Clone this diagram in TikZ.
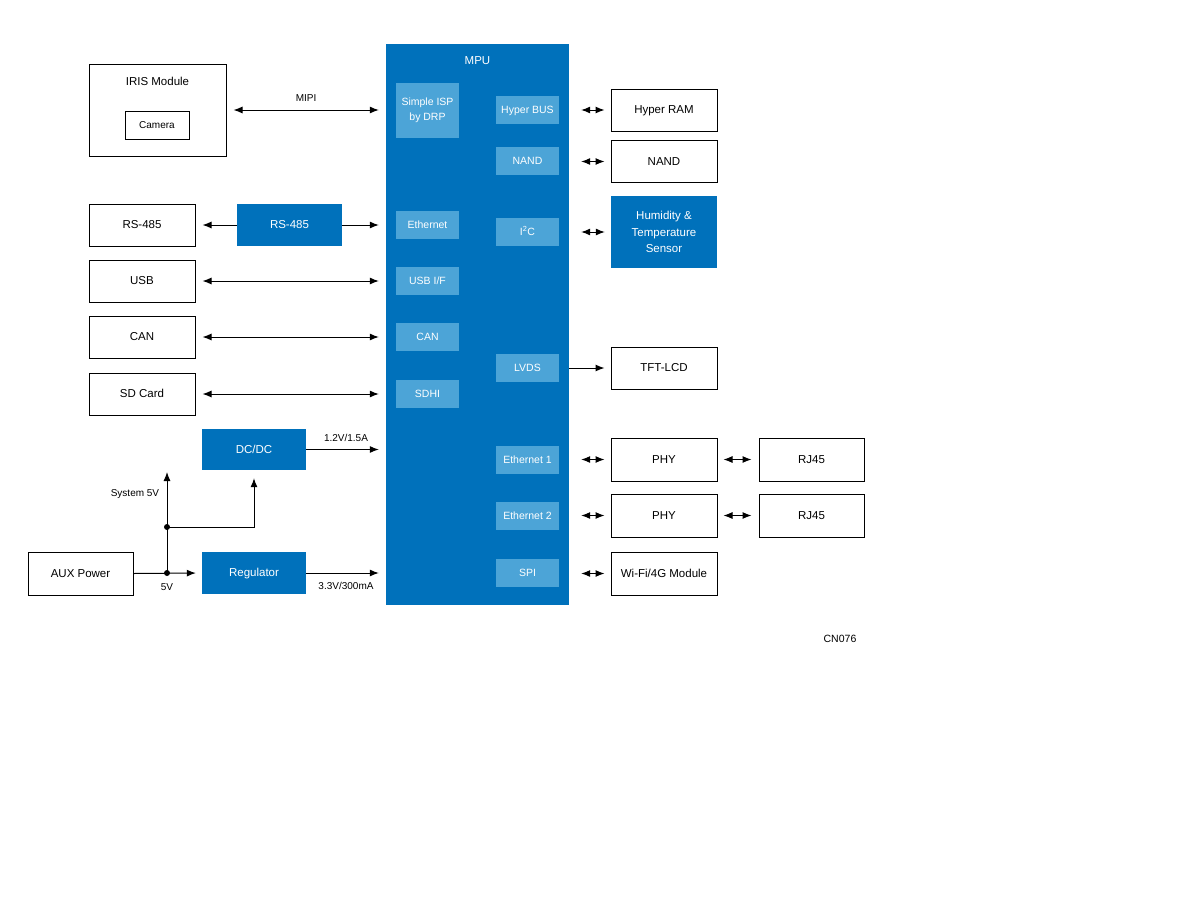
\documentclass[tikz,border=0pt]{standalone}
\usepackage{fontspec}
\setmainfont{Liberation Sans}
\usetikzlibrary{arrows.meta,calc}
\definecolor{mpublue}{RGB}{0,113,187}
\definecolor{litblue}{RGB}{76,164,215}
\begin{document}
\begin{tikzpicture}[x=1pt,y=-1pt,
  ctr/.style={text height=0.72em, text depth=0pt},
  noctr/.style={text height={}, text depth={}},
  box/.style={draw=black, line width=1pt, fill=white, inner sep=0pt, ctr,
    minimum width=106pt, minimum height=42pt, font=\fontsize{11.5}{13.5}\selectfont},
  bluebox/.style={fill=mpublue, text=white, inner sep=0pt, align=center, ctr,
    minimum width=105pt, minimum height=42pt, font=\fontsize{11.5}{16.5}\selectfont},
  inner/.style={fill=litblue, text=white, inner sep=0pt, align=center, ctr,
    minimum width=63pt, minimum height=28pt, font=\fontsize{10.5}{15}\selectfont},
  lbl/.style={font=\fontsize{10}{12}\selectfont, inner sep=0pt},
  conn/.style={line width=1pt, draw=black},
  dbl/.style={conn, {Latex[length=9pt,width=7pt]}-{Latex[length=9pt,width=7pt]}},
  one/.style={conn, -{Latex[length=9pt,width=7pt]}},
  dot/.style={circle, fill=black, inner sep=0pt, minimum size=6pt}
]
\useasboundingbox (0,0) rectangle (1200,900);

% MPU
\node[fill=mpublue, minimum width=183pt, minimum height=561pt, inner sep=0pt] (mpu) at (477.5,324.5) {};
\node[text=white, font=\fontsize{11.5}{13}\selectfont, inner sep=0pt, ctr] (mpulbl) at (477.5,61) {MPU};
\node[inner, noctr, minimum height=55pt] (isp) at (427.5,110.5) {Simple ISP\\by DRP};
\node[inner] (eth) at (427.5,225) {Ethernet};
\node[inner] (usbif) at (427.5,281) {USB I/F};
\node[inner] (canif) at (427.5,337) {CAN};
\node[inner] (sdhi) at (427.5,394) {SDHI};
\node[inner] (hbus) at (527.5,110) {Hyper BUS};
\node[inner] (nandif) at (527.5,161) {NAND};
\node[inner] (i2c) at (527.5,232) {I\textsuperscript{2}C};
\node[inner] (lvds) at (527.5,368) {LVDS};
\node[inner] (e1) at (527.5,459.5) {Ethernet 1};
\node[inner] (e2) at (527.5,516) {Ethernet 2};
\node[inner] (spi) at (527.5,573) {SPI};

% Right boxes
\node[box] (hram) at (664,110) {Hyper RAM};
\node[box] (nand) at (664,161.5) {NAND};
\node[bluebox, noctr, minimum width=106pt, minimum height=72pt] (hum) at (664,232) {Humidity \&\\Temperature\\Sensor};
\node[box] (tft) at (664,368) {TFT-LCD};
\node[box, minimum height=43pt] (phy1) at (664,459.5) {PHY};
\node[box, minimum height=43pt] (phy2) at (664,515.5) {PHY};
\node[box, minimum height=43pt] (wifi) at (664,573.5) {Wi-Fi/4G Module};
\node[box, minimum width=105pt, minimum height=43pt] (rj1) at (811.5,459.5) {RJ45};
\node[box, minimum width=105pt, minimum height=43pt] (rj2) at (811.5,515.5) {RJ45};

% Left boxes
\node[box, minimum width=137pt, minimum height=92pt] (iris) at (157.5,110) {};
\node[inner sep=0pt, ctr, font=\fontsize{11.5}{13}\selectfont] (irislbl) at (157.5,82) {IRIS Module};
\node[box, minimum width=64pt, minimum height=28pt, font=\fontsize{10}{12}\selectfont] (cam) at (157,125) {Camera};
\node[box] (rs485) at (142,225) {RS-485};
\node[bluebox] (rsb) at (289.5,225) {RS-485};
\node[box] (usb) at (142,281) {USB};
\node[box] (can) at (142,337) {CAN};
\node[box] (sd) at (142,394) {SD Card};
\node[bluebox, minimum width=104pt, minimum height=41pt] (dcdc) at (254,449.5) {DC/DC};
\node[bluebox, minimum width=104pt] (reg) at (254,573) {Regulator};
\node[box, minimum width=105pt, minimum height=43pt] (aux) at (80.5,573.5) {AUX Power};

% Right connectors
\foreach \a/\b in {hbus/hram, nandif/nand, i2c/hum, e1/phy1, e2/phy2, spi/wifi}{
  \draw[dbl, shorten <=22pt, shorten >=6pt] (\a.east |- \b.west) -- (\b.west);
}
\draw[dbl, shorten <=6pt, shorten >=7pt] (phy1.east) -- (rj1.west);
\draw[dbl, shorten <=6pt, shorten >=7pt] (phy2.east) -- (rj2.west);
\draw[one, shorten >=6pt] (mpu.east |- tft.west) -- (tft.west);

% Left connectors
\draw[dbl, shorten <=7pt, shorten >=7pt] (iris.east) -- (iris.east -| mpu.west)
  node[lbl, midway, above=8pt] (mipi) {MIPI};
\draw[one, shorten >=7pt] (rsb.west) -- (rs485.east);
\draw[one, shorten >=7pt] (rsb.east) -- (rsb.east -| mpu.west);
\foreach \a in {usb, can, sd}{
  \draw[dbl, shorten <=7pt, shorten >=7pt] (\a.east) -- (\a.east -| mpu.west);
}
\draw[one, shorten >=7pt] (dcdc.east) -- (dcdc.east -| mpu.west)
  node[lbl, midway, above=7pt] (v12) {1.2V/1.5A};
\draw[one, shorten >=7pt] (reg.east) -- (reg.east -| mpu.west)
  node[lbl, midway, below=9pt] (v33) {3.3V/300mA};

% Power tree
\coordinate (j1) at (167,573);
\coordinate (j2) at (167,527);
\coordinate (sys) at (167,472);
\coordinate (dcin) at (dcdc.south |- j2);
\draw[one, shorten >=6pt] (aux.east) -- (reg.west);
\draw[one] (j1) -- (sys);
\draw[one, shorten >=8pt] (j2) -- (dcin) -- (dcdc.south);
\node[dot] (d1) at (j1) {};
\node[dot] (d2) at (j2) {};
\node[lbl] (sys5) at (135,494) {System 5V};
\node[lbl] (fivev) at (167,587.5) {5V};

\node[lbl, font=\fontsize{10.5}{12}\selectfont] (cn) at (840,639) {CN076};
\end{tikzpicture}
\end{document}
